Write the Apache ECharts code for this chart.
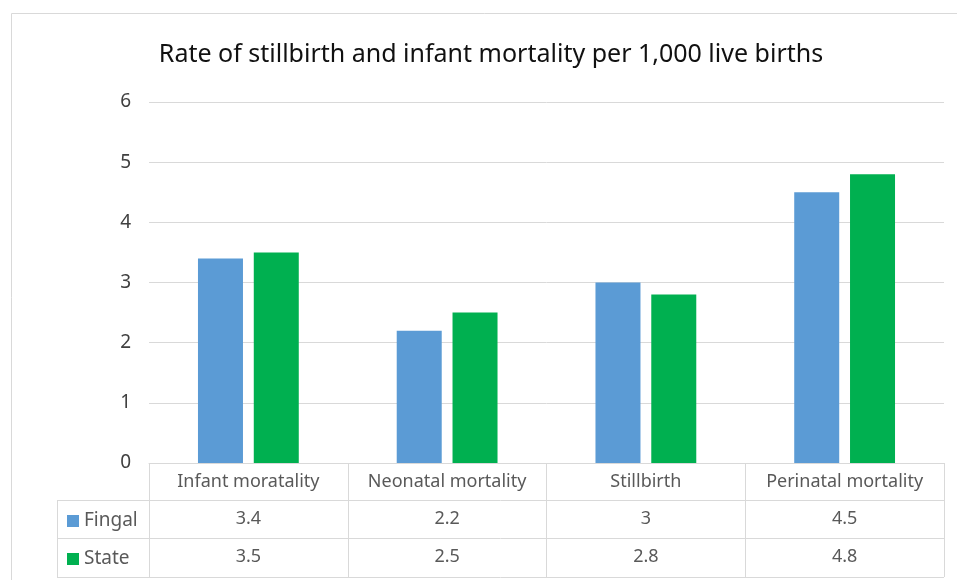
<!DOCTYPE html>
<html>
<head>
<meta charset="utf-8">
<style>
  html, body { margin: 0; padding: 0; background: #fff; }
  #chart { width: 957px; height: 580px; }
</style>
<script src="https://cdn.jsdelivr.net/npm/echarts@6/dist/echarts.min.js"></script>
</head>
<body>
<div id="chart"></div>
<script>
// data
var categories = ["Infant moratality", "Neonatal mortality", "Stillbirth", "Perinatal mortality"];
var seriesNames = ["Fingal", "State"];
var fingal = [3.4, 2.2, 3, 4.5];
var state = [3.5, 2.5, 2.8, 4.8];
var yTicks = [0, 1, 2, 3, 4, 5, 6];

var FONT = "Noto Sans";
var LINE = "#d9d9d9";
var TXT = "#595959";

var chart = echarts.init(document.getElementById("chart"));

// a hidden value axis for the table row grids
function rowY(i) {
  return { gridIndex: i, type: "value", min: 0, max: 1, show: false };
}
// one row of the data table, labels taken from the series values
function rowX(i, values) {
  return {
    gridIndex: i,
    type: "category",
    position: "top",
    data: values.map(String),
    axisLine: { show: false },
    axisTick: { show: false },
    axisLabel: {
      interval: 0,
      inside: true,
      margin: 19,
      verticalAlign: "middle",
      fontFamily: FONT,
      fontSize: 18,
      color: TXT
    }
  };
}

chart.setOption({
  animation: false,
  title: {
    text: "Rate of stillbirth and infant mortality per 1,000 live births",
    left: 486,
    top: 37,
    textAlign: "center",
    textStyle: { fontFamily: FONT, fontSize: 25, fontWeight: "normal", color: "#111" }
  },
  legend: {
    data: seriesNames,
    orient: "vertical",
    left: 62,
    top: 504,
    icon: "rect",
    itemWidth: 12,
    itemHeight: 12,
    itemGap: 14,
    textStyle: { fontFamily: FONT, fontSize: 19, color: TXT, lineHeight: 24 }
  },
  grid: [
    { left: 149, right: 13, top: 102, bottom: 117 },
    { left: 149, right: 13, top: 500, height: 38 },
    { left: 149, right: 13, top: 538, height: 39 }
  ],
  xAxis: [
    {
      type: "category",
      data: categories,
      axisLine: { lineStyle: { color: LINE } },
      axisTick: { show: true, interval: 0, length: 114, lineStyle: { color: LINE } },
      axisLabel: {
        interval: 0,
        margin: 19,
        verticalAlign: "middle",
        fontFamily: FONT,
        fontSize: 18,
        color: TXT
      }
    },
    rowX(1, fingal),
    rowX(2, state)
  ],
  yAxis: [
    {
      type: "value",
      min: yTicks[0],
      max: yTicks[yTicks.length - 1],
      interval: 1,
      axisLine: { show: false },
      axisTick: { show: false },
      axisLabel: { margin: 18, fontFamily: FONT, fontSize: 19, color: "#404040" },
      splitLine: { lineStyle: { color: LINE } }
    },
    rowY(1),
    rowY(2)
  ],
  series: [
    {
      name: seriesNames[0],
      type: "bar",
      data: fingal,
      barWidth: 45,
      barGap: "24%",
      itemStyle: { color: "#5b9bd5" }
    },
    {
      name: seriesNames[1],
      type: "bar",
      data: state,
      barWidth: 45,
      barGap: "24%",
      itemStyle: { color: "#00b050" }
    }
  ],
  graphic: [
    // chart frame
    { type: "rect", shape: { x: 11.5, y: 13.5, width: 960, height: 600 }, style: { fill: "none", stroke: LINE, lineWidth: 1 }, silent: true },
    // table rules
    { type: "line", shape: { x1: 57, y1: 500.5, x2: 944, y2: 500.5 }, style: { stroke: LINE, lineWidth: 1 } },
    { type: "line", shape: { x1: 57, y1: 538.5, x2: 944, y2: 538.5 }, style: { stroke: LINE, lineWidth: 1 } },
    { type: "line", shape: { x1: 57, y1: 577.5, x2: 944, y2: 577.5 }, style: { stroke: LINE, lineWidth: 1 } },
    { type: "line", shape: { x1: 57.5, y1: 500, x2: 57.5, y2: 578 }, style: { stroke: LINE, lineWidth: 1 } }
  ]
});
</script>
</body>
</html>
